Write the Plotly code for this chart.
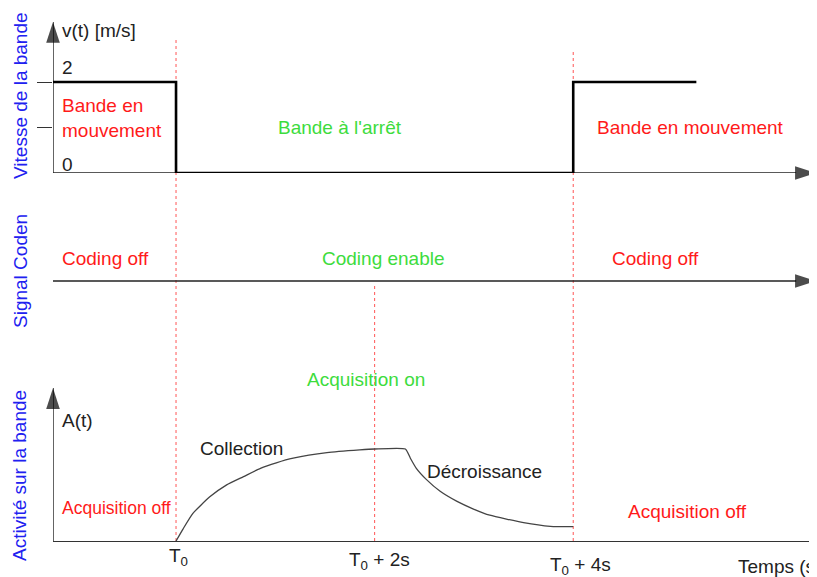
import plotly.graph_objects as go

# --- data ---
t_marks = [0, 2, 4]                      # T0, T0+2s, T0+4s
step_t = [-1.239, 0, 4, 5.24]            # speed profile (hv steps)
step_v = [2, 0, 2, 2]
act_t = [0, 0.07, 0.17, 0.34, 0.51, 0.68, 0.85, 1.01, 1.18, 1.52, 1.85, 2.0, 2.31,
         2.36, 2.42, 2.52, 2.66, 2.83, 2.99, 3.16, 3.50, 3.77, 4.0]
act_a = [0, 0.13, 0.30, 0.48, 0.61, 0.70, 0.79, 0.85, 0.90, 0.96, 0.99, 1.0, 1.0,
         0.90, 0.79, 0.67, 0.54, 0.43, 0.35, 0.28, 0.20, 0.16, 0.156]
tick_text = ["T<sub>0</sub>", "T<sub>0</sub> + 2s", "T<sub>0</sub> + 4s"]

# page has an 8px body margin, so the figure is 8px smaller and positions are shifted
OFF = 8
W, H = 817 - OFF, 577 - OFF
FONT = "Liberation Sans, Arial, sans-serif"
RED, GREEN, BLUE, INK = "#ff1a1a", "#3ddc3d", "#2020f0", "#222222"
X0, X1 = -1.239, 6.455
FS = 19


def fx(px):
    return (px - OFF) / W


def fy(py):
    return 1 - (py - OFF) / H


def dom(top_px, bot_px):
    return [fy(bot_px), fy(top_px)]


fig = go.Figure()


def axis_arrow(xs, ys, yaxis):
    fig.add_trace(go.Scatter(x=xs, y=ys, mode="lines+markers", yaxis=yaxis, cliponaxis=False,
                             line=dict(color="#222", width=1.4),
                             marker=dict(symbol="arrow", angleref="previous", size=[0, 22],
                                         color="black", line=dict(width=0))))


axis_arrow([X0, 6.445], [0, 0], "y")
axis_arrow([X0, X0], [0, 3.32], "y")
axis_arrow([X0, 6.445], [0, 0], "y2")
axis_arrow([X0, X0], [0, 1.663], "y3")

fig.add_trace(go.Scatter(x=step_t, y=step_v, mode="lines", line_shape="hv", cliponaxis=False,
                         line=dict(color="black", width=2.6), yaxis="y"))
fig.add_trace(go.Scatter(x=act_t, y=act_a, mode="lines", line_shape="spline",
                         line=dict(color="#444", width=1.3, smoothing=0.5), yaxis="y3"))

# dotted red markers across panels
tops = [37, 283, 52]
for t, top in zip(t_marks, tops):
    fig.add_shape(type="line", xref="x", yref="paper", x0=t, x1=t,
                  y0=fy(541), y1=fy(top),
                  line=dict(color="#ff5555", width=1, dash="dot"), layer="below")

ann = []


def txt(x, y, s, yref, color=INK, size=FS, xanchor="center", xref="x", **kw):
    ann.append(dict(x=x, y=y, text=s, xref=xref, yref=yref, showarrow=False,
                    xanchor=xanchor, yanchor="middle",
                    font=dict(family=FONT, size=size, color=color), **kw))


# panel 1 text
txt(-1.17, 3.14, "v(t) [m/s]", "y", xanchor="left")
txt(-1.17, 2.31, "2", "y", xanchor="left")
txt(-1.17, 0.18, "0", "y", xanchor="left")
txt(-1.17, 1.21, "Bande en<br>mouvement", "y", color=RED, xanchor="left", align="left")
txt(1.65, 0.99, "Bande à l'arrêt", "y", color=GREEN)
txt(5.18, 0.99, "Bande en mouvement", "y", color=RED)

# panel 2 text
txt(-0.715, 0.383, "Coding off", "y2", color=RED)
txt(2.085, 0.383, "Coding enable", "y2", color=GREEN)
txt(4.83, 0.383, "Coding off", "y2", color=RED)

# panel 3 text
txt(1.91, 1.75, "Acquisition on", "y3", color=GREEN)
txt(-1.17, 1.315, "A(t)", "y3", xanchor="left")
txt(0.655, 1.0, "Collection", "y3")
txt(3.11, 0.76, "Décroissance", "y3")
txt(-1.17, 0.36, "Acquisition off", "y3", color=RED, size=17.5, xanchor="left")
txt(5.146, 0.326, "Acquisition off", "y3", color=RED)

# time labels under the bottom axis
for t, s, ypx, dx in zip(t_marks, tick_text, [557, 561, 566], [0.02, 0.05, 0.07]):
    txt(t + dx, fy(ypx), s, "paper")
txt(1, fy(566), "Temps (s", "paper", xref="paper", xanchor="right")

# side titles
for s, ypx in [("Vitesse de la bande", 96), ("Signal Coden", 271), ("Activité sur la bande", 476)]:
    txt(fx(20), fy(ypx), s, "paper", color=BLUE, xref="paper", textangle=-90)

ax_common = dict(showgrid=False, zeroline=False, showticklabels=False,
                 fixedrange=True, automargin=False)
fig.update_layout(
    width=W, height=H, margin=dict(l=0, r=0, t=0, b=0, autoexpand=False),
    paper_bgcolor="white", plot_bgcolor="white", showlegend=False,
    xaxis=dict(domain=[fx(53), 1], range=[X0, X1], anchor="y3", showline=True,
               linecolor="#333", linewidth=1.3, ticks="", **ax_common),
    yaxis=dict(domain=dom(15, 173), range=[0, (173 - 15) / 45.5], anchor="x",
               ticks="outside", tickvals=[1, 2], ticklen=15, tickcolor="#333",
               tickwidth=1.2, **ax_common),
    yaxis2=dict(domain=dom(221, 341), range=[-1, 1], anchor="x", ticks="", **ax_common),
    yaxis3=dict(domain=dom(380, 541), range=[0, (541 - 380) / 92], anchor="x",
                ticks="", **ax_common),
    annotations=ann,
)

fig.write_html("out.html")
